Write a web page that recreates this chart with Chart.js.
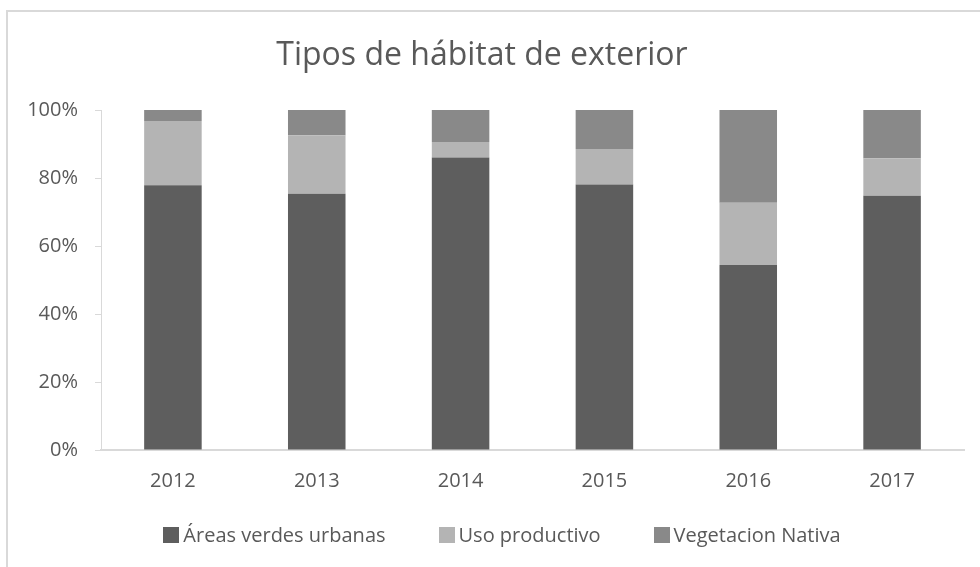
<!DOCTYPE html>
<html>
<head>
<meta charset="utf-8">
<script src="https://cdn.jsdelivr.net/npm/chart.js@4"></script>
<style>
  html, body { margin: 0; padding: 0; background: #ffffff; }
  #wrap { width: 980px; height: 567px; position: relative; }
</style>
</head>
<body>
<div id="wrap"><canvas id="c" width="980" height="567"></canvas></div>
<script>
const categories = ['2012', '2013', '2014', '2015', '2016', '2017'];
const areasVerdes = [77.9, 75.4, 86.0, 78.1, 54.4, 74.8];
const usoProductivo = [18.9, 17.2, 4.6, 10.4, 18.3, 11.0];
const vegetacionNativa = [3.2, 7.4, 9.4, 11.5, 27.3, 14.2];
const yTicks = [0, 20, 40, 60, 80, 100];

const textColor = '#595959';
const lineColor = '#d9d9d9';
const FONT = "'Open Sans', 'Noto Sans', sans-serif";

const frame = {
  id: 'frame',
  beforeDraw(chart) {
    const ctx = chart.ctx;
    ctx.save();
    ctx.fillStyle = '#ffffff';
    ctx.fillRect(0, 0, chart.width, chart.height);
    ctx.strokeStyle = lineColor;
    ctx.lineWidth = 2;
    ctx.beginPath();
    ctx.moveTo(7, chart.height);
    ctx.lineTo(7, 11);
    ctx.lineTo(chart.width, 11);
    ctx.stroke();
    ctx.restore();
  }
};

// Legend drawn from the chart's datasets (Excel-like spacing: small gap box→text)
const bottomLegend = {
  id: 'bottomLegend',
  afterDraw(chart) {
    const ctx = chart.ctx;
    const items = chart.data.datasets.map(ds => ({ text: ds.label, color: ds.backgroundColor }));
    const box = 16, gap = 4, spacing = 53, cx = 502, cy = 535;
    ctx.save();
    ctx.font = "20px " + FONT;
    ctx.textBaseline = 'middle';
    ctx.textAlign = 'left';
    const widths = items.map(it => box + gap + ctx.measureText(it.text).width);
    const total = widths.reduce((a, b) => a + b, 0) + spacing * (items.length - 1);
    let x = cx - total / 2;
    items.forEach((it, i) => {
      ctx.fillStyle = it.color;
      ctx.fillRect(Math.round(x), cy - box / 2, box, box);
      ctx.fillStyle = textColor;
      ctx.fillText(it.text, x + box + gap, cy + 1);
      x += widths[i] + spacing;
    });
    ctx.restore();
  }
};

new Chart(document.getElementById('c'), {
  type: 'bar',
  data: {
    labels: categories,
    datasets: [
      { label: 'Áreas verdes urbanas', data: areasVerdes, backgroundColor: '#5e5e5e', borderWidth: 0 },
      { label: 'Uso productivo', data: usoProductivo, backgroundColor: '#b4b4b4', borderWidth: 0 },
      { label: 'Vegetacion Nativa', data: vegetacionNativa, backgroundColor: '#898989', borderWidth: 0 }
    ]
  },
  options: {
    responsive: false,
    animation: false,
    devicePixelRatio: 1,
    layout: { padding: { left: 0, right: 16, top: 18, bottom: 0 } },
    datasets: { bar: { barPercentage: 0.4, categoryPercentage: 1.0 } },
    plugins: {
      title: {
        display: true,
        text: 'Tipos de hábitat de exterior',
        color: textColor,
        font: { family: FONT, size: 32, weight: 'normal' },
        padding: { top: 19, bottom: 34.6 }
      },
      legend: { display: false },
      tooltip: { enabled: false }
    },
    scales: {
      x: {
        stacked: true,
        grid: { display: false },
        border: { display: true, color: lineColor, width: 2 },
        afterFit(scale) { scale.height = 117; },
        ticks: { color: textColor, font: { family: FONT, size: 20 }, padding: 11 }
      },
      y: {
        stacked: true,
        min: 0,
        max: 100,
        afterBuildTicks(scale) { scale.ticks = yTicks.map(v => ({ value: v })); },
        afterFit(scale) { scale.width = 101; },
        grid: { display: true, drawOnChartArea: false, drawTicks: true, tickLength: 6, color: lineColor, lineWidth: 1 },
        border: { display: true, color: lineColor, width: 1 },
        ticks: {
          color: textColor,
          font: { family: FONT, size: 20 },
          padding: 17,
          callback: v => v + '%'
        }
      }
    }
  },
  plugins: [frame, bottomLegend]
});
</script>
</body>
</html>
